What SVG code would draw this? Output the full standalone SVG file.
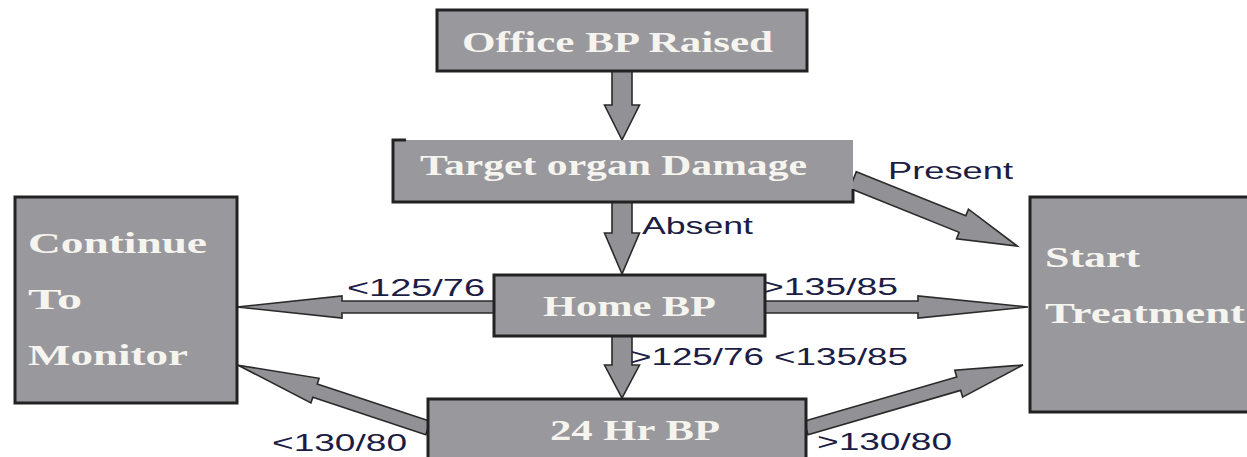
<svg xmlns="http://www.w3.org/2000/svg" width="1247" height="457" viewBox="0 0 1247 457">
<style>
.box{fill:#98989d;stroke:#222;stroke-width:3}
.boxfill{fill:#98989d;stroke:none}
.edge{fill:none;stroke:#222;stroke-width:3}
.arr{fill:#929296;stroke:#2a2a2a;stroke-width:1.6;stroke-linejoin:miter}
.bt{font-family:"Liberation Serif","Times New Roman",serif;font-weight:bold;font-size:30px;fill:#f6f4ee}
.lb{font-family:"Liberation Sans",Arial,sans-serif;font-size:24px;fill:#1c1c44}
</style>
<rect width="1247" height="457" fill="#ffffff"/>
<g id="connectors">
<polygon class="arr" transform="translate(622,71) rotate(90)" points="0,-10 34,-10 34,-17.5 69,0 34,17.5 34,10 0,10"/>
<polygon class="arr" transform="translate(622,202) rotate(90)" points="0,-10 31,-10 31,-17.5 72,0 31,17.5 31,10 0,10"/>
<polygon class="arr" transform="translate(622,336) rotate(90)" points="0,-10 29,-10 29,-17.5 62,0 29,17.5 29,10 0,10"/>
<polygon class="arr" transform="translate(494,307) rotate(180)" points="0,-6 152,-6 152,-11 257,0 152,11 152,6 0,6"/>
<polygon class="arr" transform="translate(765,307)" points="0,-6 153,-6 153,-11 263,0 153,11 153,6 0,6"/>
<polygon class="arr" transform="translate(853,180) rotate(21.9)" points="0,-9 118,-9 118,-16 177,0 118,16 118,9 0,9"/>
<polygon class="arr" transform="translate(806,428) rotate(-16.2)" points="0,-7 159,-7 159,-14 226,0 159,14 159,7 0,7"/>
<polygon class="arr" transform="translate(428,428) rotate(198.3)" points="0,-7 119,-7 119,-13 200,0 119,13 119,7 0,7"/>
<text class="lb" x="888" y="179" textLength="125" lengthAdjust="spacingAndGlyphs">Present</text>
<text class="lb" x="642" y="234" textLength="111" lengthAdjust="spacingAndGlyphs">Absent</text>
<text class="lb" x="347" y="296" textLength="138" lengthAdjust="spacingAndGlyphs">&lt;125/76</text>
<text class="lb" x="762" y="295" textLength="136" lengthAdjust="spacingAndGlyphs">&gt;135/85</text>
<text class="lb" x="630" y="365" textLength="278" lengthAdjust="spacingAndGlyphs">&gt;125/76 &lt;135/85</text>
<text class="lb" x="272" y="451" textLength="135" lengthAdjust="spacingAndGlyphs">&lt;130/80</text>
<text class="lb" x="817" y="450" textLength="135" lengthAdjust="spacingAndGlyphs">&gt;130/80</text>
</g>
<g id="office">
<rect class="box" x="437" y="10" width="370" height="61"/>
<text class="bt" x="462" y="52" textLength="311" lengthAdjust="spacingAndGlyphs">Office BP Raised</text>
</g>
<g id="target">
<rect class="boxfill" x="393" y="140" width="460" height="62"/>
<path class="edge" d="M406,140 H393 V202 H853 V189"/>
<text class="bt" x="420" y="175" textLength="387" lengthAdjust="spacingAndGlyphs">Target organ Damage</text>
</g>
<g id="continue">
<rect class="box" x="15" y="197" width="222" height="206"/>
<text class="bt" x="28" y="253" textLength="179" lengthAdjust="spacingAndGlyphs">Continue</text>
<text class="bt" x="28" y="309" textLength="54" lengthAdjust="spacingAndGlyphs">To</text>
<text class="bt" x="28" y="365" textLength="160" lengthAdjust="spacingAndGlyphs">Monitor</text>
</g>
<g id="home">
<rect class="box" x="494" y="275" width="271" height="61"/>
<text class="bt" x="543" y="316" textLength="173" lengthAdjust="spacingAndGlyphs">Home BP</text>
</g>
<g id="hr24">
<rect class="box" x="428" y="399" width="378" height="70"/>
<text class="bt" x="550" y="440" textLength="170" lengthAdjust="spacingAndGlyphs">24 Hr BP</text>
</g>
<g id="start">
<rect class="box" x="1030" y="197" width="230" height="215"/>
<text class="bt" x="1045" y="267" textLength="95" lengthAdjust="spacingAndGlyphs">Start</text>
<text class="bt" x="1045" y="323" textLength="200" lengthAdjust="spacingAndGlyphs">Treatment</text>
</g>
</svg>
